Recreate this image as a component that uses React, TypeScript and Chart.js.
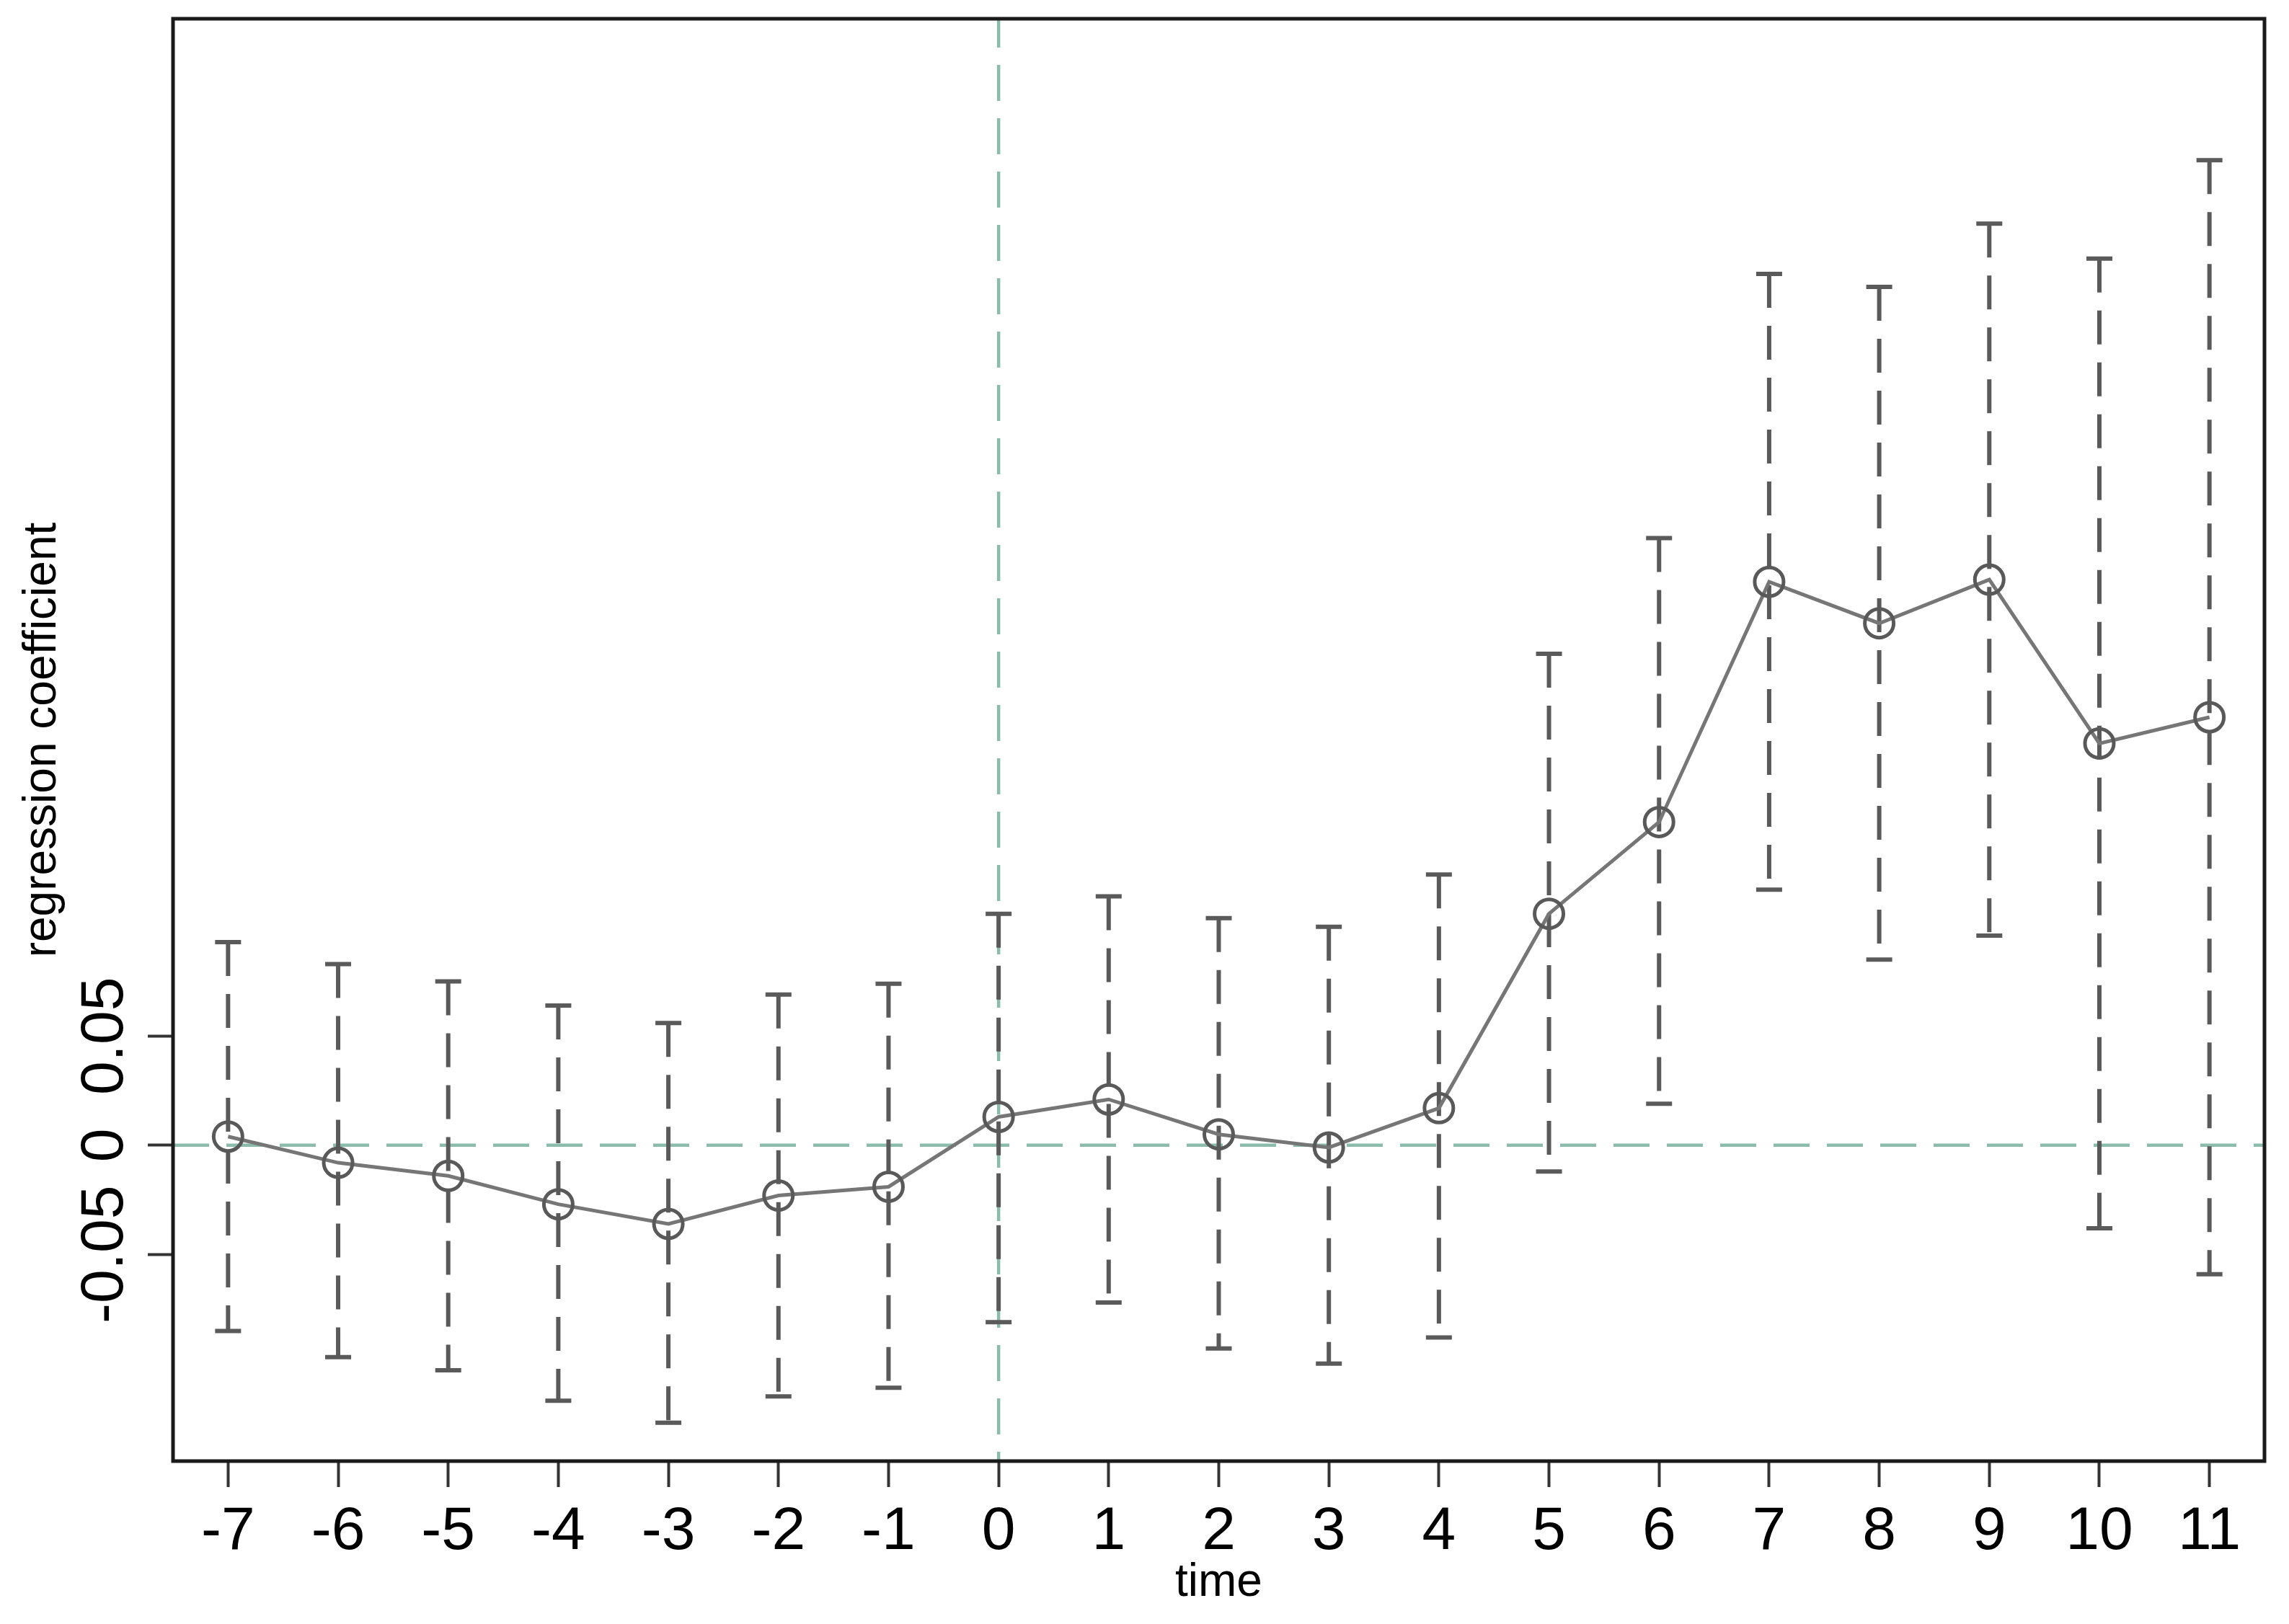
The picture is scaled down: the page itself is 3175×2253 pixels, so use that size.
import React, { useEffect, useRef } from "react";
import { Chart, registerables } from "chart.js";

Chart.register(...registerables);

// ---- data ----
const periods = [-7, -6, -5, -4, -3, -2, -1, 0, 1, 2, 3, 4, 5, 6, 7, 8, 9, 10, 11];
const coefficients = [0.004, -0.008, -0.014, -0.027, -0.036, -0.023, -0.019, 0.013, 0.021, 0.005, -0.001, 0.017, 0.106, 0.148, 0.258, 0.239, 0.259, 0.184, 0.196];
const upperCI = [0.093, 0.083, 0.075, 0.064, 0.056, 0.069, 0.074, 0.106, 0.114, 0.104, 0.100, 0.124, 0.225, 0.278, 0.399, 0.393, 0.422, 0.406, 0.451];
const lowerCI = [-0.085, -0.097, -0.103, -0.117, -0.127, -0.115, -0.111, -0.081, -0.072, -0.093, -0.100, -0.088, -0.012, 0.019, 0.117, 0.085, 0.096, -0.038, -0.059];
const yTickValues = [-0.05, 0, 0.05];
const yTickLabels = ["-0.05", "0", "0.05"];
const xTitle = "time";
const yTitle = "regression coefficient";

const FONT = '"Liberation Sans", Arial, Helvetica, sans-serif';

const customPlugin = {
  id: "customDraw",
  beforeDatasetsDraw(chart: any) {
    const { ctx, chartArea: ca, scales } = chart;
    const x = scales.x;
    const y = scales.y;
    ctx.save();
    // reference lines
    ctx.strokeStyle = "#8bbcab";
    ctx.lineWidth = 4.5;
    ctx.setLineDash([50, 24]);
    const y0 = y.getPixelForValue(0);
    ctx.beginPath();
    ctx.moveTo(ca.left, y0);
    ctx.lineTo(ca.right, y0);
    ctx.stroke();
    const x0 = x.getPixelForValue(0);
    ctx.lineDashOffset = 10;
    ctx.beginPath();
    ctx.moveTo(x0, ca.top);
    ctx.lineTo(x0, ca.bottom);
    ctx.stroke();
    ctx.lineDashOffset = 0;
    // error bars
    ctx.strokeStyle = "#5a5a5a";
    ctx.lineWidth = 6;
    periods.forEach((p, i) => {
      const px = x.getPixelForValue(p);
      const pu = y.getPixelForValue(upperCI[i]);
      const pl = y.getPixelForValue(lowerCI[i]);
      ctx.setLineDash([47, 25]);
      ctx.beginPath();
      ctx.moveTo(px, pu);
      ctx.lineTo(px, pl);
      ctx.stroke();
      ctx.setLineDash([]);
      ctx.beginPath();
      ctx.moveTo(px - 18, pu);
      ctx.lineTo(px + 18, pu);
      ctx.moveTo(px - 18, pl);
      ctx.lineTo(px + 18, pl);
      ctx.stroke();
    });
    ctx.restore();
  },
  afterDraw(chart: any) {
    const { ctx, chartArea: ca, scales } = chart;
    const y = scales.y;
    ctx.save();
    ctx.strokeStyle = "#1a1a1a";
    ctx.lineWidth = 5;
    ctx.setLineDash([]);
    ctx.strokeRect(ca.left, ca.top, ca.right - ca.left, ca.bottom - ca.top);
    // rotated y tick labels
    ctx.fillStyle = "#000";
    ctx.font = `84px ${FONT}`;
    ctx.textAlign = "center";
    ctx.textBaseline = "alphabetic";
    yTickValues.forEach((v, i) => {
      const py = y.getPixelForValue(v);
      ctx.save();
      ctx.translate(170, py);
      ctx.rotate(-Math.PI / 2);
      ctx.fillText(yTickLabels[i], 0, 0);
      ctx.restore();
    });
    ctx.restore();
  },
};

export default function App() {
  const canvasRef = useRef<HTMLCanvasElement | null>(null);

  useEffect(() => {
    if (!canvasRef.current) return;
    const chart = new Chart(canvasRef.current, {
      type: "line",
      data: {
        datasets: [
          {
            data: periods.map((p, i) => ({ x: p, y: coefficients[i] })),
            borderColor: "#767676",
            borderWidth: 5,
            pointRadius: 20,
            pointBorderWidth: 5,
            pointBorderColor: "#595959",
            pointBackgroundColor: "rgba(0,0,0,0)",
            tension: 0,
            fill: false,
          },
        ],
      },
      options: {
        animation: false,
        responsive: false,
        maintainAspectRatio: false,
        devicePixelRatio: 1,
        layout: { padding: { left: 0, top: 26, right: 34, bottom: 0 } },
        plugins: { legend: { display: false }, tooltip: { enabled: false } },
        scales: {
          x: {
            type: "linear",
            min: -7.5,
            max: 11.5,
            afterBuildTicks: (scale: any) => {
              scale.ticks = periods.map((v) => ({ value: v }));
            },
            afterFit: (scale: any) => {
              scale.height = 226;
            },
            border: { display: false },
            grid: {
              drawOnChartArea: false,
              drawTicks: true,
              tickLength: 36,
              tickColor: "#333",
              tickWidth: 4,
            },
            ticks: {
              autoSkip: false,
              maxRotation: 0,
              minRotation: 0,
              padding: 12,
              color: "#000",
              font: { family: FONT, size: 84 },
              callback: (v: any) => String(v),
            },
            title: {
              display: true,
              text: xTitle,
              color: "#000",
              font: { family: FONT, size: 64 },
              padding: { top: 0, bottom: 18 },
            },
          },
          y: {
            type: "linear",
            min: -0.1446,
            max: 0.5158,
            afterBuildTicks: (scale: any) => {
              scale.ticks = yTickValues.map((v) => ({ value: v }));
            },
            afterFit: (scale: any) => {
              scale.width = 240;
            },
            border: { display: false },
            grid: {
              drawOnChartArea: false,
              drawTicks: true,
              tickLength: 35,
              tickColor: "#333",
              tickWidth: 4,
            },
            ticks: { display: false },
            title: {
              display: true,
              text: yTitle,
              color: "#000",
              font: { family: FONT, size: 64 },
              padding: { top: 20.6, bottom: 0 },
            },
          },
        },
      },
      plugins: [customPlugin],
    });
    return () => chart.destroy();
  }, []);

  return (
    <div style={{ position: "fixed", left: 0, top: 0, width: 3175, height: 2253, background: "#fff" }}>
      <canvas ref={canvasRef} width={3175} height={2253} />
    </div>
  );
}
